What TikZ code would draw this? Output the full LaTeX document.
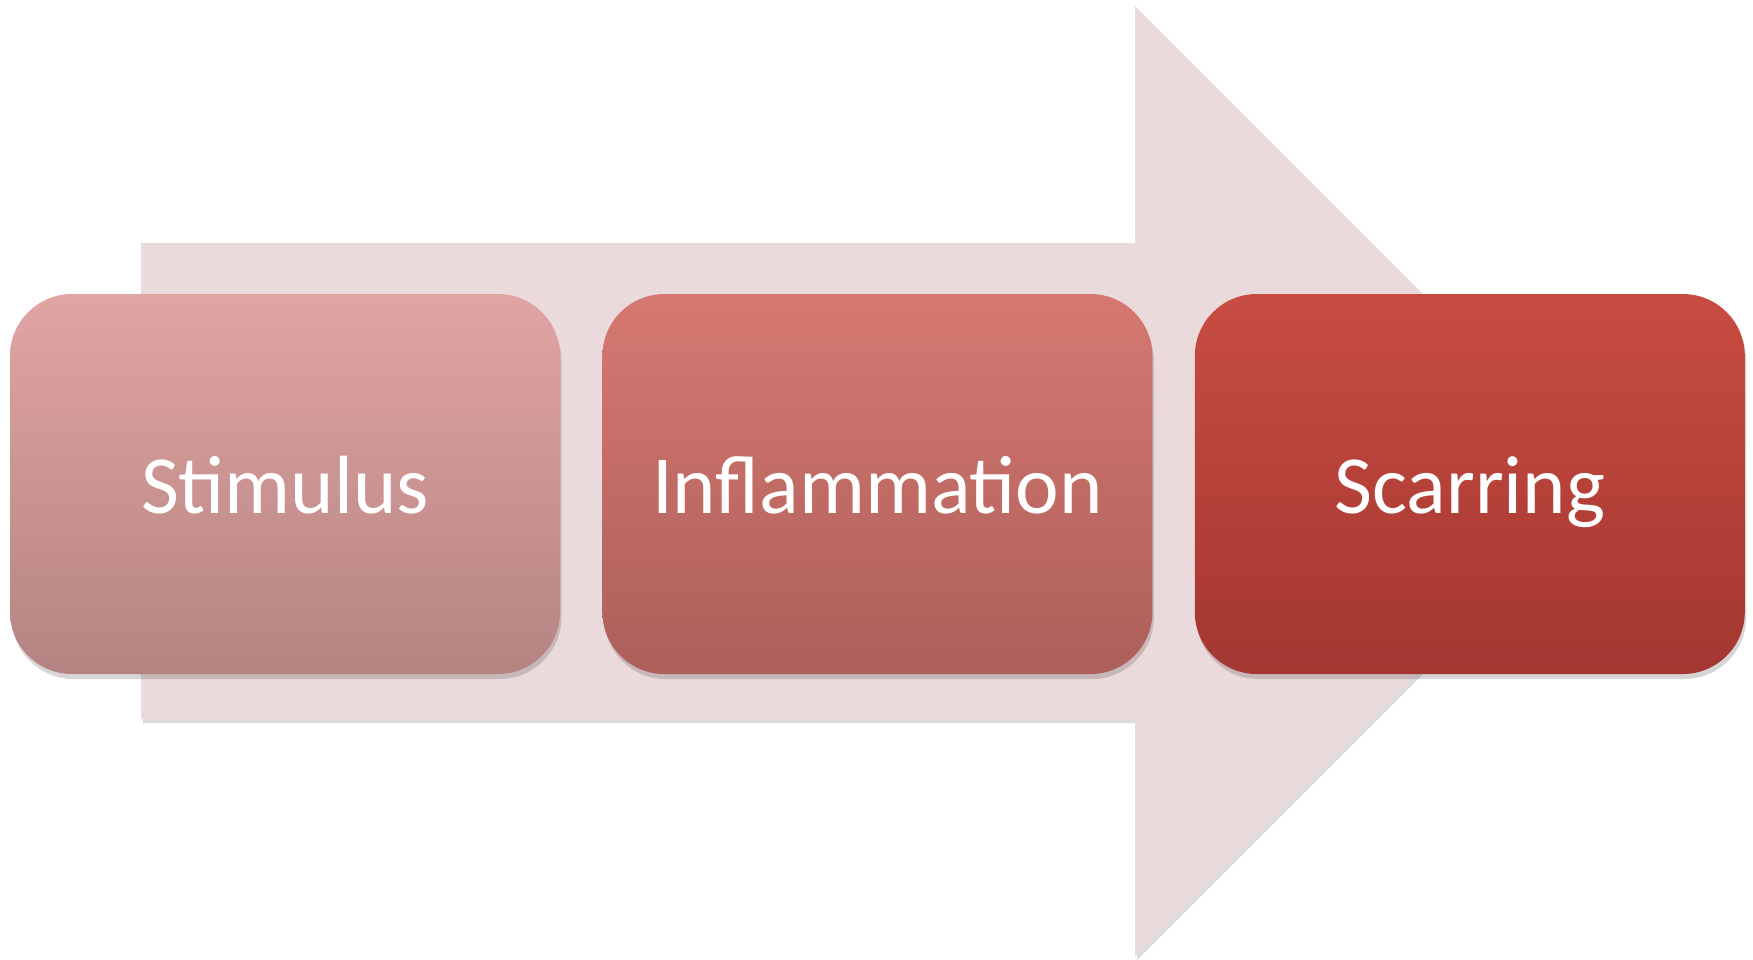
\documentclass[tikz,border=0pt]{standalone}
\usepackage{fontspec}
\setmainfont{Carlito}
\usetikzlibrary{positioning,shadows}
\definecolor{arrowpink}{HTML}{EBDADB}
\definecolor{stimtop}{HTML}{E0A4A3}
\definecolor{stimbot}{HTML}{B58482}
\definecolor{infltop}{HTML}{D67872}
\definecolor{inflbot}{HTML}{AD5F59}
\definecolor{scartop}{HTML}{C84C41}
\definecolor{scarbot}{HTML}{A33731}

\begin{document}
\begin{tikzpicture}[x=0.1mm, y=-0.1mm, node distance=4.1mm,
  stepbox/.style={rounded corners=6.2mm, minimum width=5.5cm, minimum height=3.8cm,
    text=white, font=\fontsize{23.5}{28}\selectfont, text height=17pt, text depth=0pt,
    drop shadow={shadow xshift=0.15mm, shadow yshift=-0.5mm, opacity=0.2, fill=black!80}},
  flowarrow/.style={fill=arrowpink,
    drop shadow={shadow xshift=0.2mm, shadow yshift=-0.4mm, opacity=0.2, fill=black!70}}]
\useasboundingbox (0,0) rectangle (1753,959);
\fill[flowarrow] (141,243) -- (1135,243) -- (1135,6) -- (1610,481) -- (1135,956) -- (1135,719) -- (141,719) -- cycle;
\node[stepbox, top color=stimtop, bottom color=stimbot] (stim) at (285,484) {Stimulus};
\node[stepbox, top color=infltop, bottom color=inflbot, right=of stim] (infl) {Inflammation};
\node[stepbox, top color=scartop, bottom color=scarbot, right=of infl] (scar) {Scarring};
\end{tikzpicture}
\end{document}
